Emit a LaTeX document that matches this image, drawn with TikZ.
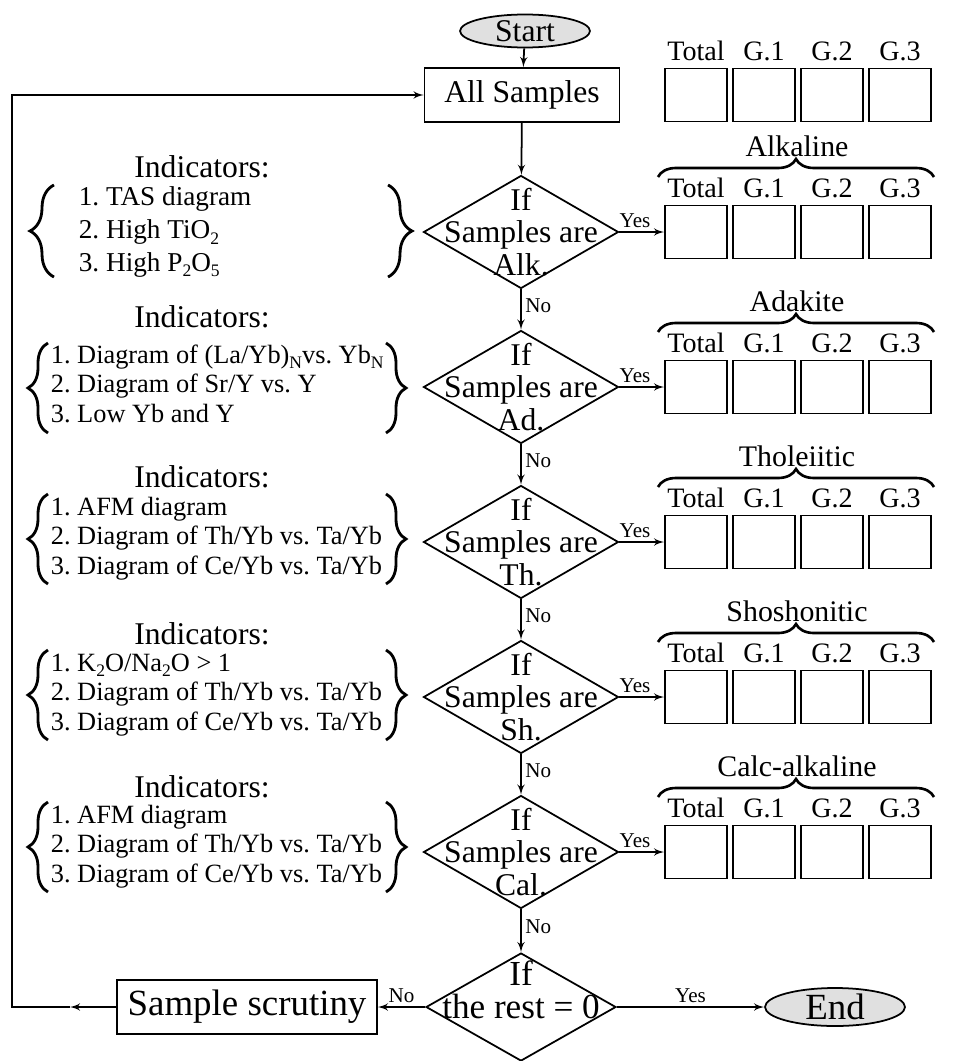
\documentclass[tikz,border=0pt]{standalone}
\usepackage{fontspec}
\setmainfont{Liberation Serif}
\usetikzlibrary{shapes, arrows, positioning, decorations.pathreplacing}

\frenchspacing
\newcommand{\lowsub}[1]{\raisebox{-0.22em}{\fontsize{10}{10}\selectfont #1}}

\begin{document}
\begin{tikzpicture}[>=latex', x=0.02cm, y=-0.02cm, line width=1pt]

\tikzstyle{block} = [draw, shape=rectangle, minimum height=1.08cm, minimum width=3.9cm, font=\fontsize{18}{20}\selectfont]
\tikzstyle{decision} = [draw, shape=diamond, minimum width=3.9cm, minimum height=2.26cm, inner sep=0pt]
\tikzstyle{dtext} = [align=center, inner sep=0pt, font=\fontsize{18}{18.7}\selectfont]
\tikzstyle{term} = [draw, shape=ellipse, fill=black!12, minimum width=2.6cm, minimum height=0.66cm, inner sep=0pt, font=\fontsize{18}{20}\selectfont]
\tikzstyle{cell} = [draw, shape=rectangle, minimum width=1.24cm, minimum height=1.06cm, inner sep=0pt]
\tikzstyle{colname} = [inner sep=2pt, font=\fontsize{16}{18}\selectfont]
\tikzstyle{group} = [font=\fontsize{17}{19}\selectfont]
\tikzstyle{hbrace} = [decorate, decoration={brace, amplitude=0.36cm}, line width=1.5pt]
\tikzstyle{vbrace} = [decorate, decoration={brace, amplitude=0.4cm}, line width=1.6pt]
\tikzstyle{answer} = [font=\fontsize{12}{14}\selectfont, inner sep=2pt]
\tikzstyle{indhead} = [font=\fontsize{18}{20}\selectfont]
\tikzstyle{indlist} = [anchor=west, inner sep=0pt, font=\fontsize{15}{17}\selectfont]

\useasboundingbox (0,0) rectangle (971,1061);

%Creating Blocks and Decisions
\node [term] (start) at (525,31) {Start};
\node [block] (all) at (522,95) {All Samples};

\node [decision] (alk) at (521,232) {};
\node [dtext] (alk-t) at (alk) {If\\Samples are\\Alk.};
\node [decision] (ad) at (521,387) {};
\node [dtext] (ad-t) at (ad) {If\\Samples are\\Ad.};
\node [decision] (th) at (521,542) {};
\node [dtext] (th-t) at (th) {If\\Samples are\\Th.};
\node [decision] (sh) at (521,697) {};
\node [dtext] (sh-t) at (sh) {If\\Samples are\\Sh.};
\node [decision] (cal) at (521,852) {};
\node [dtext] (cal-t) at (cal) {If\\Samples are\\Cal.};

\node [decision, minimum width=3.8cm, minimum height=2.16cm] (rest) at (521,1007) {};
\node [dtext, font=\fontsize{20}{19}\selectfont] (rest-t) at (521,990) {If\\the rest = 0};
\node [block, minimum width=5.2cm, font=\fontsize{21}{23}\selectfont] (scrut) at (247,1007) {Sample scrutiny};
\node [term, minimum width=2.8cm, minimum height=0.76cm, font=\fontsize{21}{23}\selectfont] (end) at (835,1007) {End};

%Result tables
\foreach \r/\y in {top/95, alk/232, ad/387, th/542, sh/697, cal/852} {
  \foreach \i/\t in {0/Total, 1/G.1, 2/G.2, 3/G.3} {
    \node [cell] (\r-\i) at (696+68*\i,\y) {};
    \node [colname, above=0.05cm of \r-\i] (\r-l\i) {\t};
  }
}
\foreach \r/\y/\t in {alk/232/Alkaline, ad/387/Adakite, th/542/Tholeiitic, sh/697/Shoshonitic, cal/852/Calc-alkaline} {
  \draw [hbrace] (658,\y-55) -- (934,\y-55);
  \node [group] (\r-head) at (797,\y-86) {\t};
}

%Indicators
\node [indhead] (alk-ih) at (202,167) {Indicators:};
\node [indlist, font=\fontsize{15.5}{18.5}\selectfont] (alk-il) at (78,232) {\begin{tabular}{@{}l@{}}1. TAS diagram\\2. High TiO\lowsub{2}\\3. High P\lowsub{2}O\lowsub{5}\end{tabular}};
\draw [vbrace, decoration={amplitude=0.48cm}] (54,277) -- (54,185);
\draw [vbrace, decoration={amplitude=0.48cm}] (388,185) -- (388,277);

\node [indhead] (ad-ih) at (202,317) {Indicators:};
\node [indlist] (ad-il) at (50,387) {\begin{tabular}{@{}l@{}}1. Diagram of (La/Yb)\lowsub{N}vs. Yb\lowsub{N}\\2. Diagram of Sr/Y vs. Y\\3. Low Yb and Y\end{tabular}};
\draw [vbrace] (48,433) -- (48,343);
\draw [vbrace] (386,343) -- (386,433);

\node [indhead] (th-ih) at (202,477) {Indicators:};
\node [indlist] (th-il) at (50,539) {\begin{tabular}{@{}l@{}}1. AFM diagram\\2. Diagram of Th/Yb vs. Ta/Yb\\3. Diagram of Ce/Yb vs. Ta/Yb\end{tabular}};
\draw [vbrace] (48,584) -- (48,494);
\draw [vbrace] (386,494) -- (386,584);

\node [indhead] (sh-ih) at (202,634) {Indicators:};
\node [indlist] (sh-il) at (50,695) {\begin{tabular}{@{}l@{}}1. K\lowsub{2}O/Na\lowsub{2}O > 1\\2. Diagram of Th/Yb vs. Ta/Yb\\3. Diagram of Ce/Yb vs. Ta/Yb\end{tabular}};
\draw [vbrace] (48,740) -- (48,650);
\draw [vbrace] (386,650) -- (386,740);

\node [indhead] (cal-ih) at (202,787) {Indicators:};
\node [indlist] (cal-il) at (50,847) {\begin{tabular}{@{}l@{}}1. AFM diagram\\2. Diagram of Th/Yb vs. Ta/Yb\\3. Diagram of Ce/Yb vs. Ta/Yb\end{tabular}};
\draw [vbrace] (48,892) -- (48,802);
\draw [vbrace] (386,802) -- (386,892);

%Conecting Blocks
\draw [->] (start) -- (all);
\draw [->] (all) -- (alk);
\draw [->] (alk) -- node [answer, right, pos=0.4] (alk-no) {No} (ad);
\draw [->] (ad) -- node [answer, right, pos=0.4] (ad-no) {No} (th);
\draw [->] (th) -- node [answer, right, pos=0.4] (th-no) {No} (sh);
\draw [->] (sh) -- node [answer, right, pos=0.4] (sh-no) {No} (cal);
\draw [->] (cal) -- node [answer, right, pos=0.4] (cal-no) {No} (rest);

\draw [->] (alk) -- node [answer, above, pos=0.35] (alk-yes) {Yes} (alk-0);
\draw [->] (ad) -- node [answer, above, pos=0.35] (ad-yes) {Yes} (ad-0);
\draw [->] (th) -- node [answer, above, pos=0.35] (th-yes) {Yes} (th-0);
\draw [->] (sh) -- node [answer, above, pos=0.35] (sh-yes) {Yes} (sh-0);
\draw [->] (cal) -- node [answer, above, pos=0.35] (cal-yes) {Yes} (cal-0);

\draw [->] (rest) -- node [answer, above] (rest-yes) {Yes} (end);
\draw [->] (rest) -- node [answer, above] (rest-no) {No} (scrut);

%Back to all samples
\coordinate (back) at (70,1007);
\coordinate (corner) at (12,1007);
\draw [->] (scrut) -- (back);
\draw [->] (back) -- (corner) |- (all);

\end{tikzpicture}
\end{document}
